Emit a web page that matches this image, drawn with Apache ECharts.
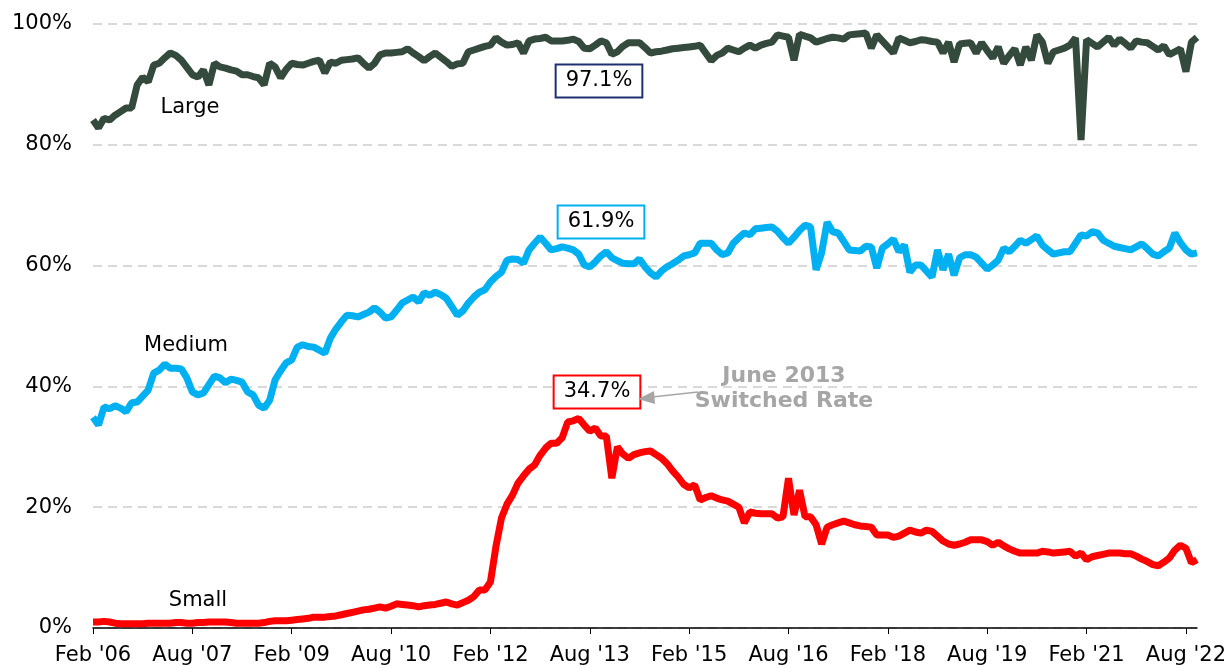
<!DOCTYPE html>
<html>
<head>
<meta charset="utf-8">
<script src="https://cdn.jsdelivr.net/npm/echarts@6/dist/echarts.min.js"></script>
<style>
  html, body { margin: 0; padding: 0; background: #fff; }
  #chart { width: 1229px; height: 668px; }
</style>
</head>
<body>
<div id="chart"></div>
<script>
// monthly categories Feb '06 .. Oct '22
const monthNames = ['Jan', 'Feb', 'Mar', 'Apr', 'May', 'Jun', 'Jul', 'Aug', 'Sep', 'Oct', 'Nov', 'Dec']
const months = []
for (let i = 0; i < 201; i++) {
  const m = (1 + i) % 12
  const y = 2006 + Math.floor((1 + i) / 12)
  months.push(monthNames[m] + " '" + String(y).slice(2))
}

const yTicks = [0, 20, 40, 60, 80, 100]

const large = [
  84.1, 82.8, 84.4, 84.1, 84.9, 85.5, 86.1, 86.1, 89.9, 91.2,
  90.4, 93.2, 93.5, 94.4, 95.2, 94.8, 94.0, 92.8, 91.6, 91.2,
  92.4, 89.9, 93.5, 92.9, 92.7, 92.4, 92.2, 91.6, 91.6, 91.3,
  91.1, 89.9, 93.5, 92.9, 91.1, 92.5, 93.5, 93.3, 93.2, 93.5,
  93.8, 94.0, 91.9, 93.7, 93.5, 94.0, 94.1, 94.2, 94.4, 93.5,
  92.7, 93.5, 94.9, 95.2, 95.2, 95.3, 95.4, 95.9, 95.2, 94.6,
  93.9, 94.6, 95.2, 94.5, 93.8, 93.0, 93.4, 93.5, 95.4, 95.7,
  96.0, 96.3, 96.5, 97.7, 97.0, 96.5, 96.6, 96.9, 95.2, 97.2,
  97.5, 97.6, 97.8, 97.2, 97.2, 97.2, 97.3, 97.5, 97.1, 96.0,
  95.9, 96.5, 97.2, 96.9, 95.0, 95.4, 96.3, 96.9, 96.9, 96.9,
  96.1, 95.2, 95.4, 95.5, 95.7, 95.9, 96.0, 96.1, 96.2, 96.3,
  96.5, 95.2, 93.9, 94.8, 95.2, 96.0, 95.7, 95.4, 96.0, 96.5,
  96.0, 96.5, 96.8, 97.0, 98.2, 98.0, 97.8, 94.0, 98.3, 98.0,
  97.7, 97.0, 97.3, 97.6, 97.8, 97.7, 97.5, 98.2, 98.3, 98.4,
  98.5, 96.0, 98.2, 97.2, 96.2, 95.2, 97.7, 97.3, 96.9, 97.1,
  97.4, 97.3, 97.1, 97.0, 95.2, 97.0, 93.7, 96.7, 96.8, 96.9,
  95.2, 96.9, 95.6, 94.4, 96.2, 93.5, 94.8, 95.9, 93.2, 96.2,
  94.0, 98.2, 97.0, 93.5, 95.4, 95.7, 96.0, 96.5, 97.7, 80.8,
  97.4, 96.8, 96.2, 97.0, 97.8, 96.5, 97.5, 96.8, 96.0, 97.2,
  97.0, 96.9, 96.3, 95.7, 96.4, 94.9, 95.4, 95.9, 92.1, 97.0,
  97.8
]

const medium = [
  34.9, 33.6, 36.6, 36.3, 36.8, 36.4, 35.8, 37.3, 37.4, 38.4,
  39.4, 42.2, 42.7, 43.7, 43.0, 43.0, 42.9, 41.4, 39.1, 38.6,
  38.9, 40.3, 41.7, 41.4, 40.6, 41.2, 41.0, 40.7, 39.1, 38.6,
  36.9, 36.4, 37.7, 41.1, 42.6, 43.9, 44.4, 46.5, 46.9, 46.6,
  46.5, 46.0, 45.5, 48.0, 49.5, 50.7, 51.8, 51.7, 51.5, 51.9,
  52.3, 53.0, 52.3, 51.3, 51.5, 52.6, 53.8, 54.3, 54.8, 54.0,
  55.5, 55.1, 55.6, 55.2, 54.6, 53.2, 51.8, 52.5, 53.8, 54.8,
  55.6, 56.0, 57.3, 58.2, 58.9, 60.9, 61.1, 61.0, 60.4, 62.6,
  63.7, 64.7, 63.7, 62.6, 62.8, 63.1, 62.9, 62.6, 61.9, 60.1,
  59.8, 60.6, 61.6, 62.3, 61.3, 60.8, 60.4, 60.3, 60.3, 61.1,
  59.8, 58.8, 58.1, 59.1, 59.8, 60.3, 60.9, 61.6, 61.8, 62.1,
  63.7, 63.7, 63.7, 62.6, 61.8, 62.1, 63.7, 64.6, 65.4, 65.1,
  66.1, 66.2, 66.3, 66.4, 65.7, 64.6, 63.7, 64.7, 65.8, 66.7,
  66.4, 59.3, 62.1, 67.2, 65.6, 65.4, 64.0, 62.6, 62.5, 62.4,
  63.2, 63.1, 59.6, 62.9, 63.6, 64.4, 62.3, 63.4, 58.9, 60.1,
  60.1, 59.1, 58.1, 62.6, 59.3, 61.9, 58.4, 61.3, 61.8, 61.8,
  61.4, 60.4, 59.4, 60.1, 60.9, 62.9, 62.3, 63.2, 64.2, 63.7,
  64.3, 64.9, 63.4, 62.6, 61.9, 62.1, 62.3, 62.3, 63.7, 65.1,
  64.9, 65.6, 65.4, 64.2, 63.7, 63.2, 63.0, 62.8, 62.6, 63.1,
  63.6, 62.8, 61.9, 61.6, 62.3, 62.9, 65.4, 63.8, 62.6, 61.9,
  62.1
]

const small = [
  1.0, 1.0, 1.1, 1.0, 0.8, 0.7, 0.7, 0.7, 0.7, 0.7,
  0.8, 0.8, 0.8, 0.8, 0.8, 0.9, 0.9, 0.8, 0.8, 0.9,
  0.9, 1.0, 1.0, 1.0, 1.0, 0.9, 0.8, 0.8, 0.8, 0.8,
  0.8, 0.9, 1.1, 1.2, 1.2, 1.2, 1.3, 1.4, 1.5, 1.6,
  1.8, 1.8, 1.8, 1.9, 2.0, 2.2, 2.4, 2.6, 2.8, 3.0,
  3.1, 3.3, 3.5, 3.3, 3.6, 4.0, 3.9, 3.8, 3.7, 3.5,
  3.7, 3.8, 3.9, 4.1, 4.3, 4.0, 3.8, 4.2, 4.6, 5.2,
  6.3, 6.3, 7.6, 13.5, 18.2, 20.5, 22.0, 24.0, 25.2, 26.3,
  27.0, 28.6, 29.8, 30.6, 30.6, 31.5, 34.1, 34.3, 34.7, 33.6,
  32.6, 33.1, 31.8, 31.8, 24.8, 30.0, 28.8, 28.1, 28.7, 29.0,
  29.2, 29.3, 28.7, 28.1, 27.2, 26.0, 25.0, 23.8, 23.2, 23.7,
  21.2, 21.6, 21.9, 21.5, 21.2, 21.0, 20.5, 20.0, 17.4, 19.2,
  19.0, 18.9, 18.9, 18.9, 18.2, 18.4, 24.8, 18.7, 22.8, 18.4,
  18.4, 17.1, 13.9, 16.7, 17.1, 17.4, 17.7, 17.4, 17.1, 16.9,
  16.8, 16.7, 15.4, 15.4, 15.4, 15.0, 15.2, 15.7, 16.2, 15.9,
  15.7, 16.2, 16.0, 15.2, 14.4, 13.9, 13.7, 13.9, 14.2, 14.6,
  14.6, 14.6, 14.3, 13.7, 14.2, 13.6, 13.1, 12.7, 12.4, 12.4,
  12.4, 12.4, 12.7, 12.6, 12.4, 12.5, 12.6, 12.7, 11.9, 12.4,
  11.3, 11.8, 12.0, 12.2, 12.4, 12.4, 12.4, 12.3, 12.3, 11.9,
  11.4, 11.0, 10.5, 10.3, 10.9, 11.6, 12.9, 13.7, 13.2, 10.8,
  11.3
]

const font = 'DejaVu Sans, Verdana, sans-serif'
const chart = echarts.init(document.getElementById('chart'))

// 数值标注框
function valueBox (text, cx, cy, border) {
  return {
    type: 'text',
    x: cx,
    y: cy,
    style: {
      text: text,
      fontFamily: font,
      fontSize: 21,
      fill: '#000',
      align: 'center',
      verticalAlign: 'middle',
      backgroundColor: '#fff',
      borderColor: border,
      borderWidth: 2,
      padding: [5, 9, 5, 9]
    },
    z: 100
  }
}

function seriesLabel (text, cx, cy) {
  return {
    type: 'text',
    x: cx,
    y: cy,
    style: {
      text: text,
      fontFamily: font,
      fontSize: 21,
      fill: '#000',
      align: 'center',
      verticalAlign: 'middle'
    },
    z: 100
  }
}

const option = {
  animation: false,
  grid: { left: 93, right: 32, top: 24, bottom: 40 },
  xAxis: {
    type: 'category',
    data: months,
    boundaryGap: false,
    axisLine: { lineStyle: { color: '#000', width: 1.5 } },
    axisTick: { interval: 17, length: 6, lineStyle: { color: '#000' } },
    axisLabel: {
      interval: 17,
      color: '#000',
      fontFamily: font,
      fontSize: 21,
      margin: 17
    },
    splitLine: { show: false }
  },
  yAxis: {
    type: 'value',
    min: yTicks[0],
    max: yTicks[yTicks.length - 1],
    interval: 20,
    axisLine: { show: false },
    axisTick: { show: false },
    axisLabel: {
      formatter: '{value}%',
      color: '#000',
      fontFamily: font,
      fontSize: 21,
      margin: 21
    },
    splitLine: {
      lineStyle: { color: '#d9d9d9', width: 2, type: [9, 6] }
    }
  },
  series: [
    {
      name: 'Large',
      type: 'line',
      data: large,
      symbol: 'none',
      lineStyle: { color: '#344a3c', width: 7 }
    },
    {
      name: 'Medium',
      type: 'line',
      data: medium,
      symbol: 'none',
      lineStyle: { color: '#00b0f0', width: 7 }
    },
    {
      name: 'Small',
      type: 'line',
      data: small,
      symbol: 'none',
      lineStyle: { color: '#ff0000', width: 7 }
    }
  ],
  graphic: [
    seriesLabel('Large', 190, 108),
    seriesLabel('Medium', 186, 346),
    seriesLabel('Small', 198, 601),
    valueBox('97.1%', 599, 81, '#1f3070'),
    valueBox('61.9%', 601, 222, '#00b0f0'),
    valueBox('34.7%', 597, 392, '#ff0000'),
    {
      type: 'line',
      shape: { x1: 698, y1: 392, x2: 652, y2: 397 },
      style: { stroke: '#a6a6a6', lineWidth: 1.5 },
      z: 100
    },
    {
      type: 'polygon',
      shape: { points: [[638, 399], [654, 391], [655, 404]] },
      style: { fill: '#a6a6a6' },
      z: 100
    },
    {
      type: 'text',
      x: 784,
      y: 389,
      style: {
        text: 'June 2013\nSwitched Rate',
        fontFamily: font,
        fontSize: 22,
        fontWeight: 'bold',
        lineHeight: 25,
        fill: '#a6a6a6',
        align: 'center',
        verticalAlign: 'middle'
      },
      z: 100
    }
  ]
}

chart.setOption(option)
</script>
</body>
</html>
